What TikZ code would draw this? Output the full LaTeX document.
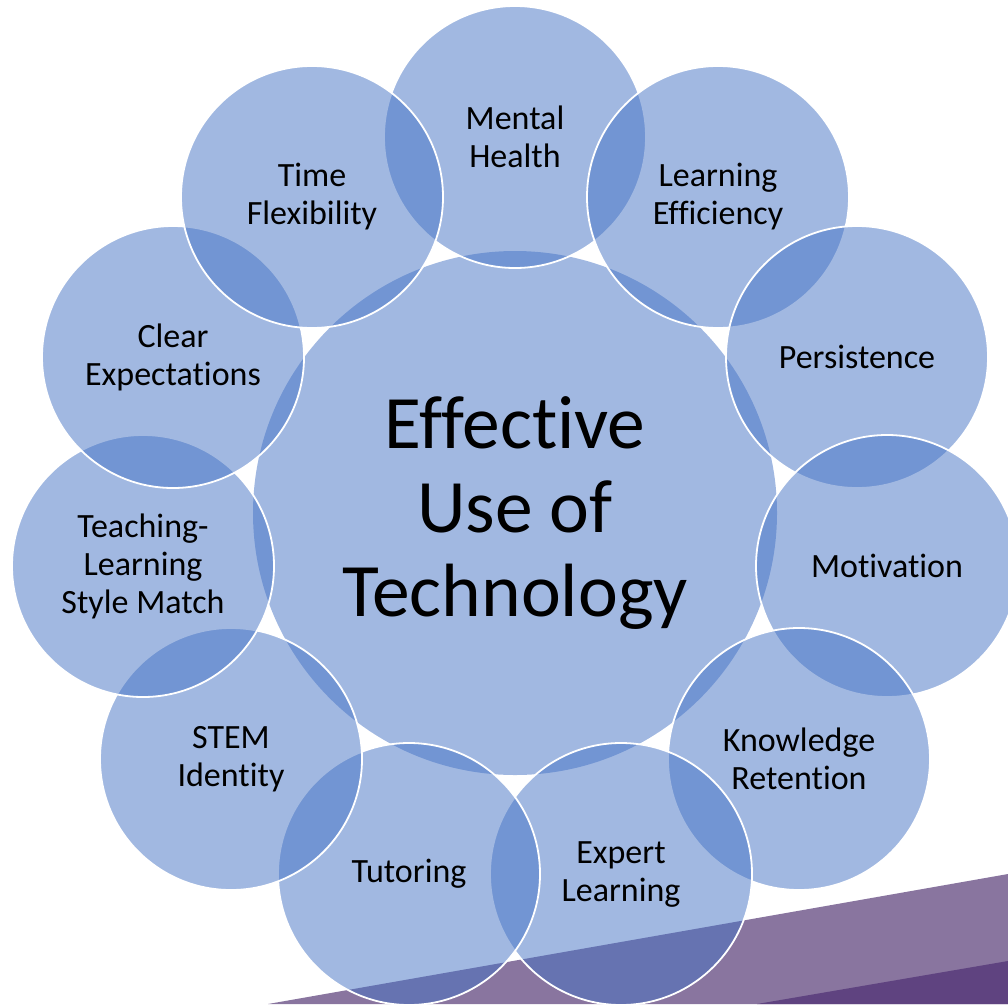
\documentclass[tikz,border=0pt]{standalone}
\usepackage{fontspec}
\setmainfont{Carlito}[Ligatures=NoCommon]
\usepackage{xcolor}
\usepackage{tikz}
\usetikzlibrary{positioning}

\definecolor{ringblue}{HTML}{4472C4}
\definecolor{bandlight}{HTML}{89759F}
\definecolor{banddark}{HTML}{5F4380}

\tikzset{
  hub/.style={circle, minimum size=524pt, inner sep=0pt, align=center,
    fill=ringblue, fill opacity=0.5, text opacity=1,
    font=\fontsize{75.5}{84}\selectfont},
  petal/.style={circle, minimum size=262pt, inner sep=0pt, align=center,
    fill=ringblue, fill opacity=0.5, text opacity=1,
    draw=white, draw opacity=1, line width=1.8pt,
    font=\fontsize{34}{38}\selectfont}
}

\begin{document}
\begin{tikzpicture}[x=1pt, y=-1pt]
    \useasboundingbox (0,0) rectangle (1008,1004);
    \clip (0,0) rectangle (1008,1004);

    % 1. Dai tim o goc duoi ben phai
    \fill[bandlight] (268,1004) -- (1008,874) -- (1008,1004) -- cycle;
    \fill[banddark] (757,1004) -- (1008,961) -- (1008,1004) -- cycle;

    % 2. Vong tron trung tam
    \node[hub] (hub) at (515,513) {Effective\\Use of\\Technology};

    % 3. Cac vong tron xung quanh, theo chieu kim dong ho tu tren xuong
    \node[petal] (mental)     at (515,137) {Mental\\Health};
    \node[petal] (efficiency) at (718,197) {Learning\\Efficiency};
    \node[petal] (persist)    at (857,357) {Persistence};
    \node[petal] (motiv)      at (887,566) {Motivation};
    \node[petal] (retention)  at (799,759) {Knowledge\\Retention};
    \node[petal] (expert)     at (621,874) {Expert\\Learning};
    \node[petal] (tutor)      at (409,874) {Tutoring};
    \node[petal] (stem)       at (231,759) {STEM\\Identity};
    \node[petal] (style)      at (143,566) {Teaching-\\Learning\\Style Match};
    \node[petal] (clear)      at (173,357) {Clear\\Expectations};
    \node[petal] (timeflex)   at (312,197) {Time\\Flexibility};

\end{tikzpicture}
\end{document}
